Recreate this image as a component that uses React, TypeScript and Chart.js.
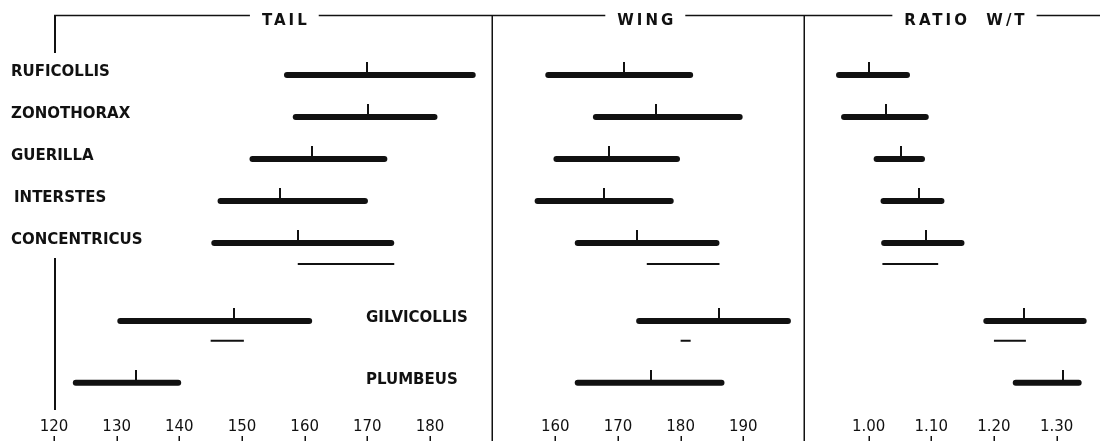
import React, { useEffect, useRef } from 'react';
import { Chart, registerables } from 'chart.js';

Chart.register(...registerables);

// ---------- data ----------
const species = ['RUFICOLLIS', 'ZONOTHORAX', 'GUERILLA', 'INTERSTES', 'CONCENTRICUS', 'GILVICOLLIS', 'PLUMBEUS'];
const rowIndex = [0, 1, 2, 3, 4, 5.86, 7.33];

const tailLow = [156.7, 158.1, 151.2, 146.1, 145.1, 130.1, 123.0];
const tailHigh = [187.3, 181.2, 173.2, 170.1, 174.3, 161.2, 140.3];
const tailMean = [170.0, 170.1, 161.2, 156.0, 158.9, 148.8, 133.1];

const wingLow = [158.4, 166.0, 159.7, 156.7, 163.1, 172.9, 163.1];
const wingHigh = [182.0, 189.9, 179.9, 178.9, 186.2, 197.6, 187.0];
const wingMean = [171.0, 176.1, 168.6, 167.8, 173.0, 186.1, 175.2];

const ratioLow = [0.948, 0.956, 1.008, 1.019, 1.020, 1.183, 1.230];
const ratioHigh = [1.066, 1.096, 1.090, 1.121, 1.153, 1.348, 1.340];
const ratioMean = [1.000, 1.028, 1.051, 1.080, 1.091, 1.248, 1.311];

// secondary (thin) ranges
const subRowIndex = [4.5, 6.33];
const tailSubLow = [158.9, 145.0];
const tailSubHigh = [174.3, 150.3];
const wingSubLow = [174.6, 180.0];
const wingSubHigh = [186.2, 181.6];
const ratioSubLow = [1.022, 1.200];
const ratioSubHigh = [1.111, 1.251];

const tailTicks = [120, 130, 140, 150, 160, 170, 180];
const wingTicks = [160, 170, 180, 190];
const ratioTicks = [1.0, 1.1, 1.2, 1.3];
const ratioTickLabels = ['1.00', '1.10', '1.20', '1.30'];

const tailRange = [120, 190];
const wingRange = [150, 200];
const ratioRange = [0.9, 1.39];
const rowRange = [-1.4286, 8.107];

const panelTitles = ['TAIL', 'WING', 'RATIO  W/T'];

// ---------- styles ----------
const INK = '#111111';
const FONT = '"DejaVu Sans", "Liberation Sans", sans-serif';

function makeMeanMarker(): HTMLCanvasElement {
  const c = document.createElement('canvas');
  c.width = 2;
  c.height = 26;
  const g = c.getContext('2d')!;
  g.fillStyle = INK;
  g.fillRect(0, 0, 2, 13);
  return c;
}

function rangeBars(low: number[], high: number[], rows: number[], axis: string, thick: number, radius: number) {
  return {
    type: 'bar' as const,
    indexAxis: 'y' as const,
    xAxisID: axis,
    yAxisID: 'rows',
    data: low.map((v, i) => ({ x: [v, high[i]], y: rows[i] })),
    backgroundColor: INK,
    borderWidth: 0,
    borderRadius: radius,
    borderSkipped: false,
    grouped: false,
    maxBarThickness: thick,
    inflateAmount: 0,
  };
}

function meanMarks(mean: number[], axis: string, marker: HTMLCanvasElement) {
  return {
    type: 'scatter' as const,
    xAxisID: axis,
    yAxisID: 'rows',
    data: mean.map((v, i) => ({ x: v, y: rowIndex[i] })),
    pointStyle: marker,
    pointRadius: 6,
    pointHoverRadius: 6,
  };
}

function xScale(range: number[], weight: number, ticks: number[], labels?: string[]) {
  return {
    type: 'linear' as const,
    axis: 'x' as const,
    position: 'bottom' as const,
    stack: 'panels',
    stackWeight: weight,
    min: range[0],
    max: range[1],
    offset: false,
    grid: { display: false, drawTicks: false },
    border: { display: false },
    afterBuildTicks: (scale: any) => {
      scale.ticks = ticks.map((v) => ({ value: v }));
    },
    afterFit: (scale: any) => {
      scale.paddingLeft = 0;
      scale.paddingRight = 0;
    },
    ticks: {
      autoSkip: false,
      maxRotation: 0,
      minRotation: 0,
      padding: 3,
      color: INK,
      font: { family: FONT, size: 15 },
      callback: (value: number) => {
        const i = ticks.indexOf(value);
        if (labels && i >= 0) return labels[i];
        return String(value);
      },
    },
  };
}

const decorPlugin = {
  id: 'decor',
  afterDraw(chart: any) {
    const ctx: CanvasRenderingContext2D = chart.ctx;
    const { tail, wing, ratio, rows } = chart.scales;
    ctx.save();
    ctx.fillStyle = INK;
    ctx.strokeStyle = INK;

    // row labels
    ctx.font = `bold 15px ${FONT}`;
    ctx.textAlign = 'left';
    ctx.textBaseline = 'middle';
    species.forEach((name, i) => {
      const y = rows.getPixelForValue(rowIndex[i]) - 3;
      let x = 11;
      if (i >= 5) x = 366;
      else if (name === 'INTERSTES') x = 14;
      ctx.fillText(name, x, y);
    });

    // top line with titles
    const topY = 15.5;
    const titleY = 21;
    const titleDx = [11, -4, 5];
    const scales = [tail, wing, ratio];
    ctx.font = `bold 15px ${FONT}`;
    (ctx as any).letterSpacing = '3px';
    ctx.lineWidth = 1.5;
    ctx.beginPath();
    let x0 = tail.left;
    panelTitles.forEach((t, i) => {
      const w = ctx.measureText(t).width - 3;
      const s = scales[i];
      const cx = (s.left + s.right) / 2 + titleDx[i];
      ctx.moveTo(x0, topY);
      ctx.lineTo(cx - w / 2 - 12, topY);
      x0 = cx + w / 2 + 12;
      ctx.fillText(t, cx - w / 2, titleY);
    });
    ctx.moveTo(x0, topY);
    ctx.lineTo(1100, topY);
    ctx.stroke();
    (ctx as any).letterSpacing = '0px';

    // bracket on the left
    ctx.lineWidth = 2;
    ctx.beginPath();
    const bx = tail.left + 1;
    ctx.moveTo(bx, topY);
    ctx.lineTo(bx, 53);
    ctx.moveTo(bx, 258);
    ctx.lineTo(bx, 410);
    ctx.stroke();

    // panel dividers
    ctx.lineWidth = 1.5;
    ctx.beginPath();
    const d1 = Math.round(tail.right) - 0.75;
    const d2 = Math.round(wing.right) - 1.75;
    ctx.moveTo(d1, topY);
    ctx.lineTo(d1, 441);
    ctx.moveTo(d2, topY);
    ctx.lineTo(d2, 441);
    ctx.stroke();

    // small tick marks below the numbers
    ctx.lineWidth = 1.5;
    ctx.beginPath();
    const tickSets: [any, number[]][] = [[tail, tailTicks], [wing, wingTicks], [ratio, ratioTicks]];
    tickSets.forEach(([s, vals]) => {
      vals.forEach((v) => {
        const x = Math.round(s.getPixelForValue(v)) + 0.25;
        ctx.moveTo(x, 436);
        ctx.lineTo(x, 441);
      });
    });
    ctx.stroke();
    ctx.restore();
  },
};

export default function App() {
  const ref = useRef<HTMLCanvasElement | null>(null);

  useEffect(() => {
    if (!ref.current) return;
    const marker = makeMeanMarker();
    const chart = new Chart(ref.current, {
      type: 'bar',
      data: {
        datasets: [
          rangeBars(tailLow, tailHigh, rowIndex, 'tail', 6, 3),
          rangeBars(tailSubLow, tailSubHigh, subRowIndex, 'tail', 2, 0),
          rangeBars(wingLow, wingHigh, rowIndex, 'wing', 6, 3),
          rangeBars(wingSubLow, wingSubHigh, subRowIndex, 'wing', 2, 0),
          rangeBars(ratioLow, ratioHigh, rowIndex, 'ratio', 6, 3),
          rangeBars(ratioSubLow, ratioSubHigh, subRowIndex, 'ratio', 2, 0),
          meanMarks(tailMean, 'tail', marker),
          meanMarks(wingMean, 'wing', marker),
          meanMarks(ratioMean, 'ratio', marker),
        ] as any,
      },
      options: {
        responsive: false,
        animation: false,
        layout: { autoPadding: false, padding: { left: 54, top: 15, right: 0, bottom: 1.5 } },
        plugins: { legend: { display: false }, tooltip: { enabled: false } },
        scales: {
          tail: xScale(tailRange, 70, tailTicks),
          wing: xScale(wingRange, 50, wingTicks),
          ratio: xScale(ratioRange, 49, ratioTicks, ratioTickLabels),
          rows: {
            type: 'linear',
            axis: 'y',
            position: 'left',
            display: false,
            reverse: true,
            min: rowRange[0],
            max: rowRange[1],
            offset: false,
            grid: { display: false },
          },
        } as any,
      },
      plugins: [decorPlugin],
    });
    return () => chart.destroy();
  }, []);

  return (
    <div style={{ position: 'fixed', left: 0, top: 0, width: 1113, height: 441, background: '#fff' }}>
      <canvas ref={ref} width={1113} height={441} style={{ display: 'block' }} />
    </div>
  );
}
